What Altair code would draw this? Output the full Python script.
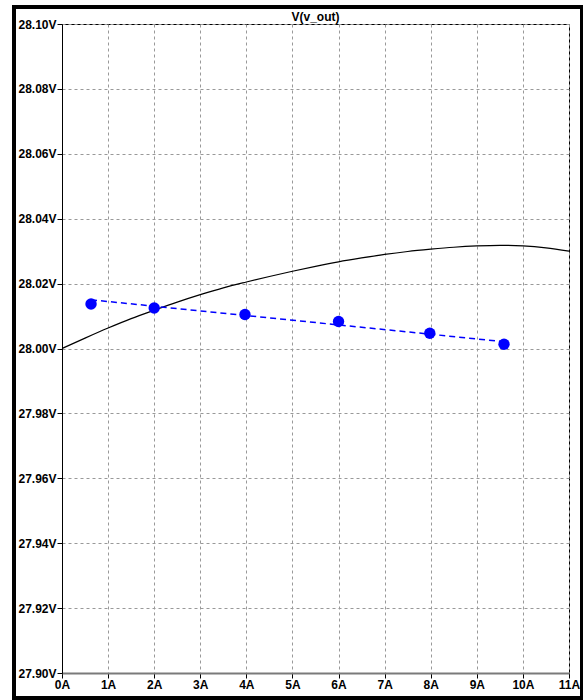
import altair as alt
import pandas as pd

# Simulated curve V(v_out) vs load current
curve_i = [0, 0.5, 1, 1.5, 2, 2.5, 3, 3.5, 4, 4.5, 5, 5.5, 6, 6.5, 7, 7.5, 8, 8.5, 9, 9.5, 10, 10.5, 11]
curve_v = [28.0000, 28.0032, 28.0063, 28.0092, 28.0118, 28.0143, 28.0166, 28.0187, 28.0205,
           28.0222, 28.0238, 28.0253, 28.0267, 28.0279, 28.0290, 28.0299, 28.0306, 28.0312,
           28.0316, 28.0318, 28.0316, 28.0310, 28.0300]

# Measured points
meas_i = [0.63, 2.0, 3.97, 6.0, 7.98, 9.59]
meas_v = [28.0137, 28.0125, 28.0105, 28.0083, 28.0047, 28.0013]

# Fitted (dashed) line endpoints
fit_i = [0.63, 9.59]
fit_v = [28.0150, 28.0021]

x_ticks = list(range(0, 12))
y_ticks = [27.90, 27.92, 27.94, 27.96, 27.98, 28.00, 28.02, 28.04, 28.06, 28.08, 28.10]

W, H = 507, 649
FONT = "Liberation Sans"

xs = alt.Scale(domain=[0, 11], nice=False, zero=False)
ys = alt.Scale(domain=[27.90, 28.10], nice=False, zero=False)

x_axis = alt.Axis(values=x_ticks, labelExpr="datum.value + 'A'", title=None,
                  grid=True, gridDash=[3, 3], gridColor="#999999", gridWidth=1,
                  domainColor="#7a7a7a", domainWidth=2, tickColor="#000000", tickSize=5,
                  labelPadding=1, labelFont=FONT, labelFontSize=12, labelFontWeight="bold",
                  labelColor="#000000", labelFlush=False, labelOverlap=False)
y_axis = alt.Axis(values=y_ticks, labelExpr="format(datum.value, '.2f') + 'V'", title=None,
                  grid=True, gridDash=[3, 3], gridColor="#999999", gridWidth=1,
                  domainColor="#000000", domainWidth=1, tickColor="#000000", tickSize=5,
                  labelPadding=1, labelFont=FONT, labelFontSize=12, labelFontWeight="bold",
                  labelColor="#000000", labelFlush=False, labelOverlap=False)

curve_df = pd.DataFrame({"I": curve_i, "V": curve_v})
meas_df = pd.DataFrame({"I": meas_i, "V": meas_v})
fit_df = pd.DataFrame({"I": fit_i, "V": fit_v})

curve = alt.Chart(curve_df).mark_line(color="#000000", strokeWidth=1.2, interpolate="monotone").encode(
    x=alt.X("I:Q", scale=xs, axis=x_axis),
    y=alt.Y("V:Q", scale=ys, axis=y_axis),
)

fit = alt.Chart(fit_df).mark_line(color="#0000ff", strokeWidth=1.5, strokeDash=[6, 4]).encode(
    x=alt.X("I:Q", scale=xs),
    y=alt.Y("V:Q", scale=ys),
)

dots = alt.Chart(meas_df).mark_circle(color="#0000ff", size=130, opacity=1).encode(
    x=alt.X("I:Q", scale=xs),
    y=alt.Y("V:Q", scale=ys),
)

frame = alt.Chart(alt.Data(values=[{"k": 1}])).mark_rect(
    fillOpacity=0, stroke="#000000", strokeWidth=4, clip=False
).encode(
    x=alt.value(-48), x2=alt.value(520), y=alt.value(-17), y2=alt.value(674)
)

chart = alt.layer(curve, fit, dots, frame).properties(
    width=W, height=H,
    title=alt.TitleParams("V(v_out)", font=FONT, fontSize=12, fontWeight="bold",
                          color="#000000", anchor="middle", offset=2, dy=21),
    padding={"left": 62, "top": 24, "right": 14, "bottom": 27},
    autosize=alt.AutoSizeParams(type="none"),
    background="#ffffff",
).configure_view(stroke="#000000", strokeWidth=1)

chart.save("out.html", embed_options={"renderer": "svg", "actions": False})
